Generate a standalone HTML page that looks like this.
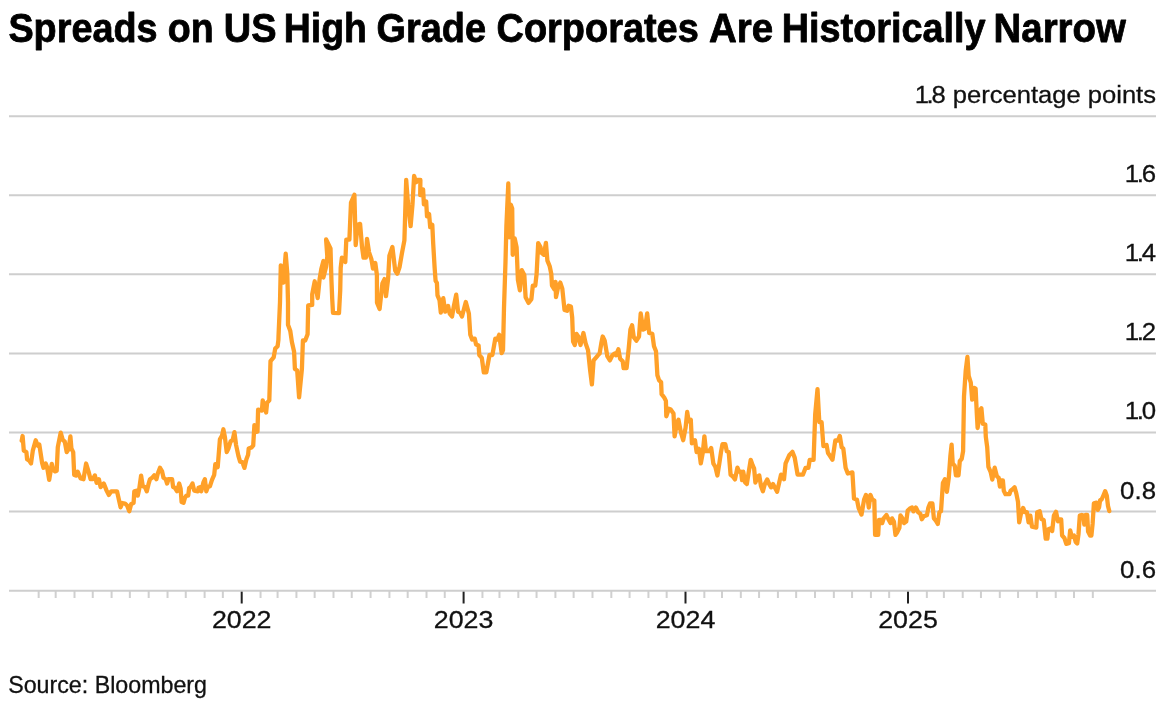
<!DOCTYPE html>
<html><head><meta charset="utf-8"><title>Spreads on US High Grade Corporates Are Historically Narrow</title>
<style>
html,body{margin:0;padding:0;background:#fff;}
body{width:1170px;height:701px;overflow:hidden;position:relative;font-family:"Liberation Sans",Arial,sans-serif;}
svg{position:absolute;left:0;top:0;}
.g{stroke:#cecece;stroke-width:2;}
.m{stroke:#d0d0d0;stroke-width:2;}
.M{stroke:#222;stroke-width:2;}
.t{font-family:"Liberation Sans",Arial,sans-serif;font-size:24.6px;fill:#111;stroke:#111;stroke-width:0.3px;}
.r{text-anchor:end;}
.c{text-anchor:middle;}
.title{font-family:"Liberation Sans",Arial,sans-serif;font-weight:bold;font-size:40.5px;fill:#000;stroke:#000;stroke-width:0.8px;stroke-linejoin:round;}
.src{font-family:"Liberation Sans",Arial,sans-serif;font-size:24px;fill:#111;stroke:#111;stroke-width:0.3px;}
.ln{fill:none;stroke:#ffa028;stroke-width:4.3;stroke-linejoin:round;stroke-linecap:round;}
</style></head><body>
<svg width="1170" height="701" viewBox="0 0 1170 701">
<g class="title"><text transform="translate(8.39,41.5) scale(0.9340,1)">Spreads </text><text transform="translate(167.79,41.5) scale(0.9275,1)">on </text><text transform="translate(223.78,41.5) scale(0.9371,1)">US </text><text transform="translate(283.80,41.5) scale(0.9238,1)">High </text><text transform="translate(376.39,41.5) scale(0.9373,1)">Grade </text><text transform="translate(496.58,41.5) scale(0.9361,1)">Corporates </text><text transform="translate(708.98,41.5) scale(0.9509,1)">Are </text><text transform="translate(781.79,41.5) scale(0.9337,1)">Historically </text><text transform="translate(993.56,41.5) scale(0.9484,1)">Narrow </text></g>
<line x1="38.65" x2="38.65" y1="590" y2="598" class="m"/>
<line x1="55.67" x2="55.67" y1="590" y2="598" class="m"/>
<line x1="74.52" x2="74.52" y1="590" y2="598" class="m"/>
<line x1="92.75" x2="92.75" y1="590" y2="598" class="m"/>
<line x1="111.60" x2="111.60" y1="590" y2="598" class="m"/>
<line x1="129.84" x2="129.84" y1="590" y2="598" class="m"/>
<line x1="148.68" x2="148.68" y1="590" y2="598" class="m"/>
<line x1="167.53" x2="167.53" y1="590" y2="598" class="m"/>
<line x1="185.77" x2="185.77" y1="590" y2="598" class="m"/>
<line x1="204.62" x2="204.62" y1="590" y2="598" class="m"/>
<line x1="222.85" x2="222.85" y1="590" y2="598" class="m"/>
<line x1="241.70" x2="241.70" y1="590" y2="603.5" class="M"/>
<line x1="260.55" x2="260.55" y1="590" y2="598" class="m"/>
<line x1="277.57" x2="277.57" y1="590" y2="598" class="m"/>
<line x1="296.42" x2="296.42" y1="590" y2="598" class="m"/>
<line x1="314.65" x2="314.65" y1="590" y2="598" class="m"/>
<line x1="333.50" x2="333.50" y1="590" y2="598" class="m"/>
<line x1="351.74" x2="351.74" y1="590" y2="598" class="m"/>
<line x1="370.58" x2="370.58" y1="590" y2="598" class="m"/>
<line x1="389.43" x2="389.43" y1="590" y2="598" class="m"/>
<line x1="407.67" x2="407.67" y1="590" y2="598" class="m"/>
<line x1="426.52" x2="426.52" y1="590" y2="598" class="m"/>
<line x1="444.75" x2="444.75" y1="590" y2="598" class="m"/>
<line x1="463.60" x2="463.60" y1="590" y2="603.5" class="M"/>
<line x1="482.45" x2="482.45" y1="590" y2="598" class="m"/>
<line x1="499.47" x2="499.47" y1="590" y2="598" class="m"/>
<line x1="518.32" x2="518.32" y1="590" y2="598" class="m"/>
<line x1="536.55" x2="536.55" y1="590" y2="598" class="m"/>
<line x1="555.40" x2="555.40" y1="590" y2="598" class="m"/>
<line x1="573.64" x2="573.64" y1="590" y2="598" class="m"/>
<line x1="592.48" x2="592.48" y1="590" y2="598" class="m"/>
<line x1="611.33" x2="611.33" y1="590" y2="598" class="m"/>
<line x1="629.57" x2="629.57" y1="590" y2="598" class="m"/>
<line x1="648.42" x2="648.42" y1="590" y2="598" class="m"/>
<line x1="666.65" x2="666.65" y1="590" y2="598" class="m"/>
<line x1="685.50" x2="685.50" y1="590" y2="603.5" class="M"/>
<line x1="704.35" x2="704.35" y1="590" y2="598" class="m"/>
<line x1="721.98" x2="721.98" y1="590" y2="598" class="m"/>
<line x1="740.82" x2="740.82" y1="590" y2="598" class="m"/>
<line x1="759.06" x2="759.06" y1="590" y2="598" class="m"/>
<line x1="777.91" x2="777.91" y1="590" y2="598" class="m"/>
<line x1="796.15" x2="796.15" y1="590" y2="598" class="m"/>
<line x1="814.99" x2="814.99" y1="590" y2="598" class="m"/>
<line x1="833.84" x2="833.84" y1="590" y2="598" class="m"/>
<line x1="852.08" x2="852.08" y1="590" y2="598" class="m"/>
<line x1="870.92" x2="870.92" y1="590" y2="598" class="m"/>
<line x1="889.16" x2="889.16" y1="590" y2="598" class="m"/>
<line x1="908.01" x2="908.01" y1="590" y2="603.5" class="M"/>
<line x1="926.85" x2="926.85" y1="590" y2="598" class="m"/>
<line x1="943.88" x2="943.88" y1="590" y2="598" class="m"/>
<line x1="962.72" x2="962.72" y1="590" y2="598" class="m"/>
<line x1="980.96" x2="980.96" y1="590" y2="598" class="m"/>
<line x1="999.81" x2="999.81" y1="590" y2="598" class="m"/>
<line x1="1018.05" x2="1018.05" y1="590" y2="598" class="m"/>
<line x1="1036.89" x2="1036.89" y1="590" y2="598" class="m"/>
<line x1="1055.74" x2="1055.74" y1="590" y2="598" class="m"/>
<line x1="1073.98" x2="1073.98" y1="590" y2="598" class="m"/>
<line x1="1092.82" x2="1092.82" y1="590" y2="598" class="m"/>
<line x1="9" x2="1156" y1="116.20" y2="116.20" class="g"/>
<line x1="9" x2="1156" y1="195.28" y2="195.28" class="g"/>
<line x1="9" x2="1156" y1="274.37" y2="274.37" class="g"/>
<line x1="9" x2="1156" y1="353.45" y2="353.45" class="g"/>
<line x1="9" x2="1156" y1="432.53" y2="432.53" class="g"/>
<line x1="9" x2="1156" y1="511.62" y2="511.62" class="g"/>
<line x1="9" x2="1156" y1="590.70" y2="590.70" class="g"/>
<text transform="translate(1156.0,182.18) scale(1.05,1)" class="t r"><tspan letter-spacing="-2.2">1.</tspan>6</text>
<text transform="translate(1156.0,261.27) scale(1.05,1)" class="t r"><tspan letter-spacing="-2.2">1.</tspan>4</text>
<text transform="translate(1156.0,340.35) scale(1.05,1)" class="t r"><tspan letter-spacing="-2.2">1.</tspan>2</text>
<text transform="translate(1156.0,419.43) scale(1.05,1)" class="t r"><tspan letter-spacing="-2.2">1.</tspan>0</text>
<text transform="translate(1156.0,498.52) scale(1.05,1)" class="t r">0.8</text>
<text transform="translate(1156.0,577.60) scale(1.05,1)" class="t r">0.6</text>
<text transform="translate(1156.0,103.20) scale(1.04,1)" class="t r"><tspan letter-spacing="-2.2">1.</tspan>8 percentage points</text>
<text transform="translate(241.70,628.3) scale(1.09,1)" class="t c">2022</text>
<text transform="translate(463.60,628.3) scale(1.09,1)" class="t c">2023</text>
<text transform="translate(685.50,628.3) scale(1.09,1)" class="t c">2024</text>
<text transform="translate(908.01,628.3) scale(1.09,1)" class="t c">2025</text>

<path class="ln" d="M21.7,440.7 L22.6,436.0 L23.8,450.7 L26.4,452.1 L27.1,459.2 L29.3,460.7 L31.0,463.5 L32.8,450.7 L35.7,440.3 L37.8,445.7 L39.3,444.5 L42.1,462.8 L43.5,467.8 L45.7,463.5 L47.1,467.1 L49.2,479.9 L51.8,463.9 L53.2,469.9 L55.0,471.4 L56.7,470.7 L57.8,447.1 L60.7,432.6 L62.8,440.0 L64.7,441.4 L66.7,452.1 L68.5,449.3 L70.4,436.4 L71.4,448.5 L73.2,452.1 L74.2,474.9 L76.4,475.6 L77.8,471.7 L80.6,478.5 L83.5,479.2 L86.1,463.5 L88.5,471.4 L90.6,479.2 L92.8,479.2 L94.9,475.4 L96.6,482.8 L98.9,479.2 L100.6,487.1 L103.8,483.5 L106.3,489.9 L108.9,494.9 L111.3,491.3 L117.0,491.3 L120.6,507.3 L122.3,503.0 L125.0,503.5 L127.1,505.6 L129.3,511.3 L131.1,504.2 L133.6,502.8 L134.3,491.3 L137.1,490.6 L137.8,495.6 L139.3,488.5 L141.1,475.6 L142.8,486.3 L145.0,487.1 L146.8,491.3 L148.5,484.2 L150.0,479.2 L152.1,477.8 L154.2,475.4 L156.4,479.2 L157.8,473.5 L160.0,467.8 L162.1,471.4 L163.5,477.8 L165.7,479.2 L167.1,483.5 L168.5,479.2 L172.1,479.2 L173.1,487.1 L174.9,487.8 L177.1,491.3 L179.2,483.5 L180.6,488.5 L181.6,502.0 L183.5,502.8 L184.9,497.8 L186.3,495.6 L188.2,495.6 L189.2,487.8 L190.6,487.1 L192.5,483.5 L194.2,490.6 L197.8,491.3 L198.5,487.8 L200.6,487.1 L201.3,491.3 L203.5,482.1 L204.9,479.2 L206.3,491.3 L207.8,487.1 L209.9,486.3 L212.0,479.9 L214.2,474.9 L215.3,464.2 L217.7,467.1 L219.9,439.3 L222.0,435.7 L223.4,429.3 L224.9,437.1 L226.7,452.1 L228.4,448.5 L230.6,441.4 L232.7,440.0 L234.4,432.1 L236.1,445.1 L238.4,455.9 L240.1,461.6 L242.4,462.2 L244.4,467.9 L246.4,459.3 L248.1,454.8 L248.7,448.5 L251.5,447.4 L253.2,445.6 L254.4,425.1 L256.1,432.0 L257.5,431.4 L258.1,409.7 L261.9,410.6 L262.7,400.4 L266.1,412.5 L267.1,402.8 L269.3,400.4 L270.5,361.2 L273.7,357.3 L275.2,348.6 L277.6,346.3 L278.4,340.0 L278.5,336.5 L280.0,302.1 L280.8,265.3 L283.5,282.7 L285.7,253.6 L287.3,273.5 L288.0,302.1 L288.0,324.8 L290.3,331.1 L291.9,342.0 L294.1,351.8 L294.9,369.0 L297.2,370.6 L299.1,397.3 L301.9,369.0 L302.9,340.5 L305.2,340.5 L307.6,334.2 L308.2,305.5 L312.2,304.9 L312.2,294.1 L314.7,281.3 L317.7,298.1 L319.6,279.2 L321.3,269.0 L323.4,261.0 L323.4,277.5 L326.1,266.7 L327.3,256.4 L326.1,239.5 L330.5,248.4 L331.4,279.2 L332.2,298.6 L333.0,312.9 L339.0,313.2 L340.2,290.6 L340.7,267.8 L341.9,257.6 L345.3,262.0 L346.3,239.6 L349.4,239.6 L351.0,202.7 L354.4,194.8 L355.7,245.1 L357.6,224.7 L360.1,223.9 L362.0,246.6 L363.5,257.6 L365.9,257.6 L367.0,238.8 L369.0,252.1 L371.4,259.2 L373.0,268.6 L375.3,263.1 L376.9,274.9 L377.0,302.6 L379.6,309.0 L382.4,283.4 L384.5,279.1 L386.0,296.2 L388.1,279.1 L389.4,255.6 L392.4,247.0 L395.2,270.5 L397.3,273.7 L399.5,267.3 L402.0,252.9 L404.4,240.4 L406.2,179.9 L407.8,201.1 L410.6,226.2 L412.5,204.2 L414.1,176.0 L416.1,182.3 L417.7,179.9 L420.4,179.9 L420.2,195.2 L423.1,189.5 L423.9,204.4 L426.2,201.5 L427.0,216.4 L429.1,214.1 L430.2,227.2 L432.3,224.9 L433.2,243.7 L434.6,267.3 L435.6,280.8 L436.9,282.8 L437.5,295.3 L439.5,300.1 L440.8,312.6 L443.3,298.2 L445.2,311.7 L448.1,305.9 L449.7,313.6 L452.0,316.5 L453.9,305.9 L456.2,294.7 L458.1,311.7 L460.1,312.6 L462.0,316.5 L465.8,302.0 L468.9,313.6 L470.3,334.8 L472.2,339.6 L474.7,338.6 L476.1,344.4 L478.6,345.4 L479.3,355.0 L481.8,357.9 L483.8,372.4 L486.3,372.4 L489.5,355.0 L492.4,355.0 L495.3,338.6 L497.3,339.6 L499.2,334.8 L501.7,353.1 L503.0,350.2 L504.0,307.8 L505.5,261.6 L506.4,225.9 L508.3,183.5 L509.3,237.4 L510.8,204.7 L512.2,208.5 L512.7,254.8 L514.7,238.4 L516.6,247.1 L517.9,279.8 L519.9,290.4 L521.8,270.2 L524.3,275.0 L525.6,297.2 L528.5,302.9 L531.4,299.1 L532.8,285.6 L535.3,285.6 L536.6,274.0 L538.2,243.2 L540.5,247.1 L541.6,252.9 L543.9,254.8 L545.9,242.8 L547.4,260.6 L549.7,266.3 L551.3,274.0 L552.0,285.6 L554.5,289.5 L555.5,281.8 L556.0,297.1 L558.2,286.8 L560.3,282.6 L562.3,288.6 L564.5,309.9 L567.1,310.8 L568.5,305.7 L570.9,306.5 L572.2,317.6 L573.1,341.6 L574.8,345.0 L576.5,333.9 L578.2,336.5 L580.5,345.0 L583.4,333.0 L585.6,343.3 L588.0,350.1 L590.2,370.7 L591.9,384.4 L593.6,360.4 L595.8,357.8 L597.9,355.3 L599.6,353.6 L601.3,343.3 L602.7,336.5 L604.7,340.7 L607.3,356.1 L609.9,360.4 L612.4,355.3 L614.7,353.6 L615.9,355.3 L618.4,349.3 L620.1,358.7 L622.7,361.3 L623.6,368.1 L626.6,368.1 L628.7,348.4 L630.4,329.6 L632.1,325.3 L633.8,337.3 L636.4,340.7 L639.0,336.5 L640.7,313.4 L643.2,329.6 L644.9,328.8 L647.2,313.4 L649.2,333.0 L652.3,333.9 L654.0,346.2 L656.0,351.3 L657.4,375.3 L659.1,380.4 L661.1,382.1 L661.6,394.1 L664.2,397.5 L665.9,400.9 L666.3,416.3 L668.8,408.8 L670.7,409.6 L673.5,413.5 L674.6,436.3 L677.0,422.9 L678.5,419.8 L680.9,432.4 L683.2,440.2 L685.6,427.6 L687.2,412.0 L688.7,421.4 L690.8,419.8 L691.9,443.3 L695.0,440.2 L696.6,452.0 L698.9,448.8 L700.8,463.4 L702.8,452.7 L704.4,436.3 L706.0,451.2 L709.1,451.2 L711.2,448.0 L713.4,463.7 L715.4,466.9 L717.4,475.5 L719.3,463.7 L720.9,452.7 L722.5,444.1 L725.3,444.1 L726.8,451.2 L728.7,452.0 L730.6,474.7 L732.6,476.3 L735.0,479.4 L737.4,467.6 L738.9,471.6 L741.0,471.6 L742.1,480.2 L743.2,471.6 L745.2,482.5 L746.8,484.1 L748.8,471.6 L750.7,459.8 L752.6,465.3 L754.1,468.4 L755.4,482.5 L757.7,476.3 L759.3,475.5 L760.9,485.7 L762.9,491.2 L764.8,484.1 L767.2,479.4 L769.2,484.1 L771.1,487.3 L773.0,484.1 L777.1,491.8 L781.0,474.7 L784.0,479.2 L785.6,463.3 L789.2,455.3 L792.4,451.9 L794.7,457.6 L797.6,474.7 L802.9,474.7 L805.6,467.8 L808.4,467.8 L809.7,459.8 L813.6,459.8 L815.2,414.2 L817.5,389.1 L819.3,422.2 L821.6,422.2 L823.4,446.2 L826.6,445.0 L828.0,453.0 L829.6,455.3 L832.5,459.8 L835.3,440.5 L838.0,440.5 L839.8,435.9 L841.7,447.3 L843.3,448.4 L845.6,467.8 L847.8,473.5 L852.4,472.4 L854.0,498.6 L857.0,499.8 L858.6,507.8 L861.5,514.6 L864.1,499.6 L866.0,494.9 L867.6,498.8 L868.8,507.5 L870.4,494.9 L872.3,499.6 L874.3,500.4 L875.1,534.9 L878.2,534.9 L879.0,520.0 L881.4,520.0 L882.2,523.1 L883.7,518.4 L886.4,515.0 L888.4,519.2 L890.5,523.1 L892.0,518.4 L893.9,521.6 L895.5,534.9 L897.1,532.5 L899.4,527.8 L900.5,515.3 L902.5,518.4 L904.1,523.1 L906.2,521.6 L907.7,510.6 L910.4,508.2 L912.0,507.5 L913.5,511.4 L915.9,507.5 L918.2,512.2 L920.3,513.7 L921.8,519.2 L924.0,516.1 L926.9,515.3 L928.4,507.5 L930.0,503.5 L932.4,503.5 L933.9,518.4 L936.0,520.8 L937.8,523.9 L939.4,512.2 L941.0,511.4 L942.9,483.1 L944.9,479.2 L946.9,491.8 L948.8,477.6 L950.4,455.7 L951.6,444.7 L952.7,463.5 L954.8,465.9 L955.9,475.3 L958.5,475.3 L959.8,461.2 L961.7,458.8 L963.1,451.1 L964.0,396.3 L965.7,370.7 L967.4,357.0 L968.7,375.8 L970.8,382.6 L972.2,399.7 L974.2,387.8 L975.6,388.6 L976.8,413.4 L977.6,428.0 L980.2,410.0 L981.4,408.3 L982.8,423.7 L985.3,424.5 L985.8,436.8 L987.2,447.1 L988.4,466.8 L990.6,471.9 L992.3,479.6 L994.7,467.7 L996.9,476.2 L998.7,477.9 L999.9,486.5 L1001.2,480.5 L1002.9,480.5 L1003.8,490.8 L1005.5,494.2 L1009.4,494.2 L1010.6,490.8 L1012.9,489.1 L1014.6,487.3 L1016.3,493.3 L1018.0,501.9 L1019.2,522.4 L1020.9,513.9 L1023.1,507.9 L1024.8,512.2 L1026.9,512.2 L1028.6,522.4 L1030.3,515.6 L1032.0,526.7 L1036.3,527.6 L1037.2,512.2 L1039.7,511.3 L1041.4,519.0 L1043.7,519.9 L1045.7,538.7 L1047.4,538.7 L1048.3,529.3 L1050.9,528.4 L1052.2,531.0 L1053.9,515.6 L1056.0,511.8 L1058.0,521.4 L1059.3,519.4 L1061.2,519.4 L1062.1,535.5 L1064.4,538.0 L1066.3,543.8 L1068.9,543.2 L1070.2,530.3 L1071.8,536.8 L1074.0,535.5 L1075.7,541.9 L1077.2,543.4 L1078.5,534.2 L1079.8,515.6 L1081.7,514.9 L1083.4,515.6 L1084.3,524.6 L1085.6,514.9 L1087.2,514.9 L1088.1,531.6 L1090.1,535.5 L1091.4,535.5 L1092.6,523.9 L1093.9,503.4 L1096.5,502.7 L1097.8,509.8 L1099.1,507.2 L1100.1,500.2 L1101.6,499.5 L1103.6,495.0 L1105.2,491.2 L1106.8,495.7 L1108.0,505.9 L1109.3,511.1"/>
<text transform="translate(8.2,692.6) scale(0.968,1)" class="src" id="src">Source: Bloomberg</text>
</svg>
</body></html>
